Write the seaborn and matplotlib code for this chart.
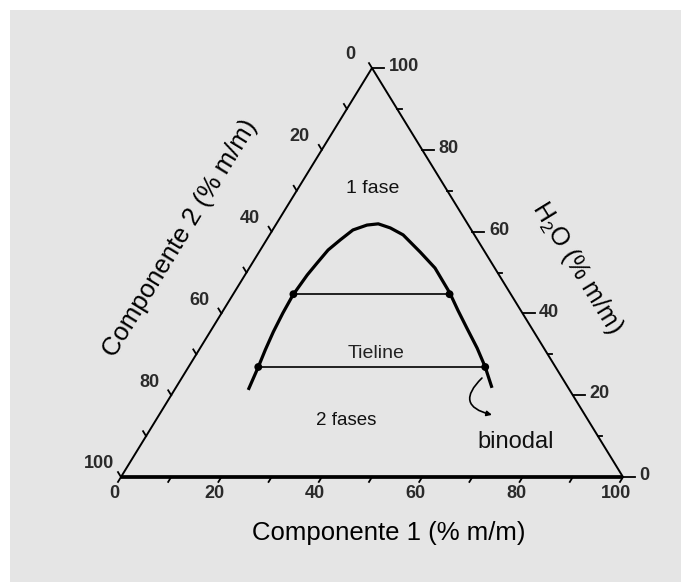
import matplotlib
matplotlib.use("Agg")
import matplotlib.pyplot as plt
from matplotlib.patches import Rectangle
import numpy as np
import pandas as pd
import seaborn as sns

plt.rcParams['font.family'] = ['Liberation Sans', 'DejaVu Sans']
plt.rcParams['mathtext.default'] = 'regular'

# binodal curve (% m/m)
binodal_c1 = [14.7, 13.9, 13.2, 12.6, 12.2, 12.0, 12.4, 12.9, 13.5, 14.7, 16.0, 18.2,
              20.3, 23.2, 26.6, 32.1, 37.0, 43.0, 46.7, 50.7, 55.2, 59.1, 63.0]
binodal_h2o = [21.3, 26.9, 31.1, 35.5, 40.1, 44.5, 49.4, 52.3, 55.5, 58.0, 60.4, 61.6,
               61.9, 60.9, 59.2, 55.0, 51.1, 45.0, 40.8, 36.4, 31.5, 26.9, 21.8]

# tie lines (end points on the binodal)
tie_upper_c1 = [12.0, 43.1]
tie_upper_h2o = [44.7, 44.7]
tie_lower_c1 = [13.9, 59.1]
tie_lower_h2o = [26.9, 26.9]

# arrow from the curve to the "binodal" label
arrow_c1 = [59.8, 66.3]
arrow_h2o = [24.2, 15.2]

tick_values = list(range(0, 101, 10))
label_values = [0, 20, 40, 60, 80, 100]


def tern(c1, h2o):
    c1 = np.asarray(c1, dtype=float)
    h2o = np.asarray(h2o, dtype=float)
    return c1 + h2o / 2, h2o


fig = plt.figure(figsize=(6.81, 5.82), dpi=100)
fig.patch.set_facecolor('white')
fig.patches.append(Rectangle((10 / 681, 0), 671 / 681, 572 / 582, transform=fig.transFigure,
                             facecolor='#e5e5e5', edgecolor='none', zorder=-10))
ax = fig.add_axes([0, 0, 1, 1])
ax.patch.set_alpha(0)

# triangle
ax.plot([0, 50], [0, 100], color='black', lw=1.4, solid_capstyle='round')
ax.plot([50, 100], [100, 0], color='black', lw=1.4, solid_capstyle='round')
ax.plot([0, 100], [0, 0], color='black', lw=2.7, solid_capstyle='butt')

tick_kw = dict(color='black', lw=1.3)
lab_kw = dict(fontsize=13, color='#2a2a2a', fontweight='bold')
for v in tick_values:
    # bottom axis: Componente 1
    x0, y0 = tern(v, 0)
    ax.plot([x0, x0 - 0.6], [y0, y0 - 1.2], **tick_kw)
    # left axis: Componente 2 (0 at top)
    x1, y1 = tern(0, 100 - v)
    ax.plot([x1, x1 - 0.6], [y1, y1 + 1.2], **tick_kw)
    # right axis: H2O
    x2, y2 = tern(100 - v, v)
    t = 2.4 if v in label_values else 0.9
    ax.plot([x2, x2 + t], [y2, y2], **tick_kw)
    if v in label_values:
        ax.text(x0 - 1.3, -4.1, str(v), ha='center', va='center', **lab_kw)
        ax.text(x1 - 4.4, y1 + 3.2, str(v), ha='center', va='center', **lab_kw)
        ax.text(x2 + 3.3, y2 + 0.3, str(v), ha='left', va='center', **lab_kw)

# binodal
bx, by = tern(binodal_c1, binodal_h2o)
df_bin = pd.DataFrame({'x': bx, 'y': by})
sns.lineplot(data=df_bin, x='x', y='y', sort=False, estimator=None, color='black', lw=2.3,
             solid_joinstyle='round', solid_capstyle='butt', ax=ax)

for c1s, hs in [(tie_upper_c1, tie_upper_h2o), (tie_lower_c1, tie_lower_h2o)]:
    tx, ty = tern(c1s, hs)
    df_tie = pd.DataFrame({'x': tx, 'y': ty})
    sns.lineplot(data=df_tie, x='x', y='y', sort=False, estimator=None, color='black', lw=1.2, ax=ax)
    sns.scatterplot(data=df_tie, x='x', y='y', color='black', s=32, edgecolor='none', ax=ax, zorder=5)

ax_x, ax_y = tern(arrow_c1, arrow_h2o)
ax.annotate('', xy=(ax_x[1], ax_y[1]), xytext=(ax_x[0], ax_y[0]),
            arrowprops=dict(arrowstyle='-|>,head_length=0.3,head_width=0.15', color='black', lw=1.2,
                            connectionstyle='arc3,rad=0.9', shrinkA=0, shrinkB=0))

ax.text(50.1, 70.5, '1 fase', ha='center', va='center', fontsize=14, color='#111111')
ax.text(50.8, 30.2, 'Tieline', ha='center', va='center', fontsize=14, color='#222222')
ax.text(44.9, 13.8, '2 fases', ha='center', va='center', fontsize=13.5, color='#111111')
ax.text(78.7, 8.6, 'binodal', ha='center', va='center', fontsize=17, color='#111111')

ax.text(53.4, -13.6, 'Componente 1 (% m/m)', ha='center', va='center', fontsize=18.5, color='black')
ax.text(11.8, 58.5, 'Componente 2 (% m/m)', ha='center', va='center', fontsize=18.5,
        rotation=58.5, rotation_mode='anchor', color='black')
ax.text(90.8, 51.3, 'H$_2$O (% m/m)', ha='center', va='center', fontsize=18,
        rotation=-58.5, rotation_mode='anchor', color='black')

ax.set_xlim(-24.10, 111.55)
ax.set_ylim(-25.67, 116.63)
ax.axis('off')

fig.savefig('out.png', dpi=100, facecolor=fig.get_facecolor())
